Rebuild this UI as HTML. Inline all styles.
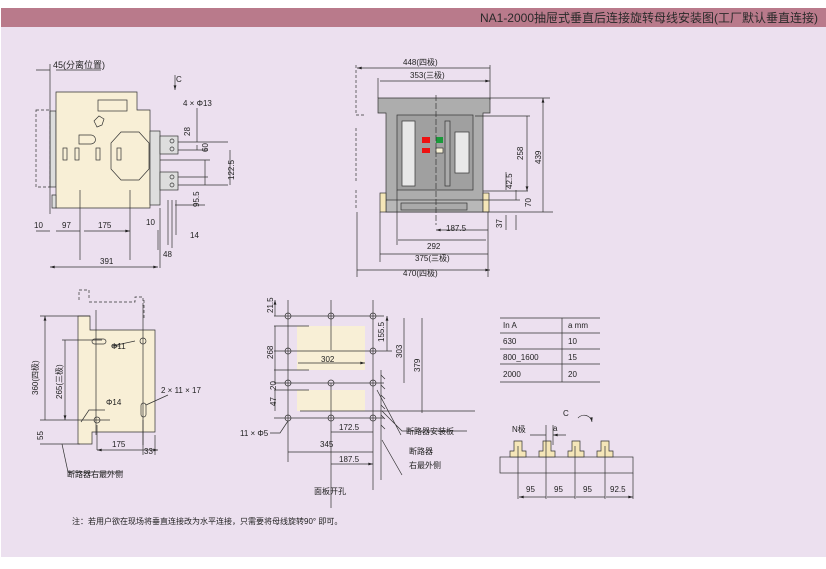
<!DOCTYPE html>
<html><head><meta charset="utf-8"><style>
html,body{margin:0;padding:0;background:#fff;}
svg{display:block;font-family:"Liberation Sans","Noto Sans CJK SC",sans-serif;}
</style></head><body>
<svg width="826" height="569" viewBox="0 0 826 569" xmlns="http://www.w3.org/2000/svg">
<defs>
<marker id="a" viewBox="0 0 10 6" refX="10" refY="3" markerWidth="7" markerHeight="4" orient="auto-start-reverse"><path d="M0,0L10,3L0,6z" fill="#222"/></marker>
</defs>
<rect x="1" y="8" width="825" height="549" fill="#ece0ef"/>
<rect x="1" y="8" width="825" height="19" fill="#b97a8b"/>
<text x="818" y="22" font-size="12" fill="#2a2a2a" text-anchor="end">NA1-2000抽屉式垂直后连接旋转母线安装图(工厂默认垂直连接)</text>

<g stroke="#333" stroke-width="0.7" fill="none" font-size="8" >
<!-- LEFT TOP VIEW -->
<rect x="36" y="110" width="14" height="77" stroke-dasharray="3,2"/>
<rect x="50" y="111" width="6" height="76" fill="#dcdcdc"/>
<path d="M56,92H137V110H150V208H56Z" fill="#f8efd6"/>
<path d="M52,195h4v13h-4z" fill="#ddd"/>
<rect x="150" y="131" width="10" height="74" fill="#ddd"/>
<rect x="160" y="136" width="18" height="18" fill="#ddd"/>
<rect x="160" y="172" width="18" height="18" fill="#ddd"/>
<circle cx="172" cy="141" r="2"/><circle cx="172" cy="149" r="2"/>
<circle cx="172" cy="177" r="2"/><circle cx="172" cy="185" r="2"/>
<rect x="98" y="100" width="29" height="11"/>
<path d="M94,121l5,-5l5,3l-2,6l-5,2z"/>
<path d="M79,135h12a4,4 0 0 1 0,9h-12z"/>
<rect x="63" y="148" width="4" height="12"/><rect x="75" y="148" width="4" height="12"/>
<rect x="96" y="148" width="4" height="12"/><rect x="117" y="148" width="4" height="12"/>
<path d="M121,132h18l10,11v26l-10,11h-18l-10,-11v-26z"/>
<path d="M50,64v150M50,70h-14M56,70h45" />
<path d="M178,142h50M178,150h30M178,177h30M178,185h50M175,205h30M160,160h50"/>
<path d="M175,75v15" marker-end="url(#a)"/>
<path d="M80,190v70M130,190v70M160,208v60M158,230v20M168,200v45M172,200v48M176,200v35"/>
<path d="M36,231h14M56,231h24M84,231h46" marker-end="url(#a)"/>
<path d="M50,267h108" marker-start="url(#a)" marker-end="url(#a)"/>
<path d="M197,108v34M197,150v-5M230,150v35M205,185v-25" />
<text x="53" y="68" stroke="none" fill="#222" font-size="9">45(分离位置)</text>
<text x="176" y="82" stroke="none" fill="#222">C</text>
<text x="183" y="106" stroke="none" fill="#222">4 × Φ13</text>
<text x="190" y="136" stroke="none" fill="#222" transform="rotate(-90 190 136)">28</text>
<text x="208" y="152" stroke="none" fill="#222" transform="rotate(-90 208 152)">60</text>
<text x="234" y="180" stroke="none" fill="#222" transform="rotate(-90 234 180)">122.5</text>
<text x="199" y="207" stroke="none" fill="#222" transform="rotate(-90 199 207)">95.5</text>
<text x="34" y="228" stroke="none" fill="#222">10</text>
<text x="62" y="228" stroke="none" fill="#222">97</text>
<text x="98" y="228" stroke="none" fill="#222">175</text>
<text x="146" y="225" stroke="none" fill="#222">10</text>
<text x="190" y="238" stroke="none" fill="#222">14</text>
<text x="163" y="257" stroke="none" fill="#222">48</text>
<text x="100" y="264" stroke="none" fill="#222">391</text>

<!-- RIGHT TOP VIEW -->
<path d="M356,65v50M356,115h8M356,128v55M356,190v20" stroke-dasharray="3,2"/>
<path d="M378,98H490V113H483V212H386V113H378Z" fill="#adadad"/>
<rect x="397" y="115" width="76" height="75" fill="#a0a0a0"/>
<rect x="402" y="121" width="13" height="65" fill="#e8e8e8"/>
<rect x="445" y="121" width="5" height="65" fill="#ababab"/>
<rect x="455" y="132" width="14" height="41" fill="#e8e8e8"/>
<rect x="422" y="137" width="8" height="6" fill="#e11" stroke="none"/>
<rect x="436" y="137" width="7" height="6" fill="#1a9a3a" stroke="none"/>
<rect x="422" y="148" width="8" height="5" fill="#e11" stroke="none"/>
<rect x="436" y="148" width="7" height="5" fill="#f6f0d6"/>
<rect x="386" y="200" width="97" height="12" fill="#b8b8b8"/>
<rect x="401" y="203" width="66" height="7" fill="#aaa"/>
<rect x="380" y="193" width="6" height="19" fill="#f5e6b8"/>
<rect x="483" y="193" width="6" height="19" fill="#f5e6b8"/>
<path d="M436,95v130" stroke-dasharray="6,2"/>
<path d="M357,68h133M380,81h110" marker-start="url(#a)" marker-end="url(#a)"/>
<path d="M378,78v20M490,65v35"/>
<path d="M490,98h60M475,116h55M483,191h45M480,200h40M483,212h70"/>
<path d="M543,98v114M527,116v75" marker-start="url(#a)" marker-end="url(#a)"/>
<path d="M506,190v-18M506,215v15M516,200v-10M516,215v15" />
<path d="M436,230h52M398,240h88M380,254h108M357,270h133" marker-start="url(#a)" marker-end="url(#a)"/>
<path d="M397,190v55M380,212v50M488,212v65M357,212v65"/>
<text x="403" y="65" stroke="none" fill="#222">448(四极)</text>
<text x="410" y="78" stroke="none" fill="#222">353(三极)</text>
<text x="523" y="160" stroke="none" fill="#222" transform="rotate(-90 523 160)">258</text>
<text x="541" y="164" stroke="none" fill="#222" transform="rotate(-90 541 164)">439</text>
<text x="512" y="189" stroke="none" fill="#222" transform="rotate(-90 512 189)">42.5</text>
<text x="531" y="207" stroke="none" fill="#222" transform="rotate(-90 531 207)">70</text>
<text x="502" y="228" stroke="none" fill="#222" transform="rotate(-90 502 228)">37</text>
<text x="446" y="231" stroke="none" fill="#222">187.5</text>
<text x="427" y="249" stroke="none" fill="#222">292</text>
<text x="415" y="261" stroke="none" fill="#222">375(三极)</text>
<text x="403" y="276" stroke="none" fill="#222">470(四极)</text>

<!-- BOTTOM LEFT VIEW -->
<path d="M79,300v-10h10v10M89,302h46v-5h8v10M144,300v20" stroke-dasharray="3,2"/>
<path d="M78,316H90V330H155V432H92V444H78Z" fill="#f8efd6"/>
<path d="M96,310v125M143,305v140M40,316h50M62,340h40M40,420h70M40,444h40"/>
<rect x="92" y="339" width="14" height="5" rx="2.5"/>
<circle cx="143" cy="341" r="3"/><circle cx="97" cy="420" r="3"/>
<rect x="141" y="403" width="5" height="14" rx="2.5"/>
<path d="M45,316v104M65,340v80" marker-start="url(#a)" marker-end="url(#a)"/>
<path d="M97,450h46M143,450h15" marker-start="url(#a)" marker-end="url(#a)"/>
<path d="M155,435v20M97,425v25M143,420v35"/>
<path d="M120,346h-8l23,-5M105,410h-16l-8,12M168,395l-22,10"/>
<path d="M62,444l6,28h55"/>
<text x="38" y="395" stroke="none" fill="#222" transform="rotate(-90 38 395)">360(四极)</text>
<text x="62" y="399" stroke="none" fill="#222" transform="rotate(-90 62 399)">265(三极)</text>
<text x="43" y="440" stroke="none" fill="#222" transform="rotate(-90 43 440)">55</text>
<text x="111" y="349" stroke="none" fill="#222">Φ11</text>
<text x="106" y="405" stroke="none" fill="#222">Φ14</text>
<text x="161" y="393" stroke="none" fill="#222">2 × 11 × 17</text>
<text x="112" y="447" stroke="none" fill="#222">175</text>
<text x="144" y="454" stroke="none" fill="#222">33</text>
<text x="67" y="477" stroke="none" fill="#222">断路器右最外侧</text>

<!-- PANEL VIEW -->
<rect x="297" y="326" width="68" height="44" fill="#f8efd6" stroke="none"/>
<rect x="297" y="390" width="68" height="21" fill="#f8efd6" stroke="none"/>
<path d="M288,300v162M331,300v50M331,383v125M373,300v190"/>
<path d="M274,316h110M274,351h118M274,383h110M274,418h110M274,326h35M274,370h35M274,390h35M300,411h175"/>
<circle cx="288" cy="316" r="3"/><circle cx="331" cy="316" r="3"/><circle cx="373" cy="316" r="3"/>
<circle cx="288" cy="351" r="3"/><circle cx="373" cy="351" r="3"/>
<circle cx="288" cy="383" r="3"/><circle cx="331" cy="383" r="3"/><circle cx="373" cy="383" r="3"/>
<circle cx="288" cy="418" r="3"/><circle cx="331" cy="418" r="3"/><circle cx="373" cy="418" r="3"/>
<path d="M381,370v110"/>
<path d="M381,375l4,4M381,385l4,4M381,395l4,4M381,405l4,4M381,415l4,4M381,425l4,4"/>
<path d="M275,300v16M275,326v44M275,383v-13M275,390v21M298,363h67" marker-start="url(#a)" marker-end="url(#a)"/>
<path d="M387,316v35M404,318v65M422,318v95M331,432h42M288,452h85M331,464h42" marker-start="url(#a)" marker-end="url(#a)"/>
<path d="M382,411l20,20h65M377,390l24,45M382,440l20,35"/>
<path d="M270,433h10l8,-12"/>
<text x="273" y="313" stroke="none" fill="#222" transform="rotate(-90 273 313)">21.5</text>
<text x="273" y="359" stroke="none" fill="#222" transform="rotate(-90 273 359)">268</text>
<text x="276" y="390" stroke="none" fill="#222" transform="rotate(-90 276 390)">20</text>
<text x="276" y="406" stroke="none" fill="#222" transform="rotate(-90 276 406)">47</text>
<text x="384" y="342" stroke="none" fill="#222" transform="rotate(-90 384 342)">155.5</text>
<text x="402" y="358" stroke="none" fill="#222" transform="rotate(-90 402 358)">303</text>
<text x="420" y="372" stroke="none" fill="#222" transform="rotate(-90 420 372)">379</text>
<text x="321" y="362" stroke="none" fill="#222">302</text>
<text x="240" y="436" stroke="none" fill="#222">11 × Φ5</text>
<text x="339" y="430" stroke="none" fill="#222">172.5</text>
<text x="320" y="447" stroke="none" fill="#222">345</text>
<text x="339" y="462" stroke="none" fill="#222">187.5</text>
<text x="406" y="434" stroke="none" fill="#222">断路器安装板</text>
<text x="409" y="454" stroke="none" fill="#222">断路器</text>
<text x="409" y="468" stroke="none" fill="#222">右最外侧</text>
<text x="314" y="494" stroke="none" fill="#222">面板开孔</text>

<!-- TABLE -->
<path d="M500,318h100M500,333h100M500,349h100M500,364h100M500,382h100M562,318v64"/>
<text x="503" y="328" stroke="none" fill="#222">In A</text><text x="568" y="328" stroke="none" fill="#222">a mm</text>
<text x="503" y="344" stroke="none" fill="#222">630</text><text x="568" y="344" stroke="none" fill="#222">10</text>
<text x="503" y="360" stroke="none" fill="#222">800_1600</text><text x="568" y="360" stroke="none" fill="#222">15</text>
<text x="503" y="377" stroke="none" fill="#222">2000</text><text x="568" y="377" stroke="none" fill="#222">20</text>

<!-- BUSBAR -->
<rect x="500" y="457" width="133" height="16" fill="#ece0ef"/>
<g fill="#f5e6b8">
<path d="M514,441h8v10h4v6h-16v-6h4z"/>
<path d="M543,441h8v10h4v6h-16v-6h4z"/>
<path d="M572,441h8v10h4v6h-16v-6h4z"/>
<path d="M601,441h8v10h4v6h-16v-6h4z"/>
</g>
<path d="M518,446v53M546,425v74M575,446v53M605,446v53M633,473v26M553,425v20"/>
<path d="M519,497h27M547,497h28M576,497h29M606,497h27" marker-start="url(#a)" marker-end="url(#a)"/>
<path d="M530,435h16M566,435h-13" marker-end="url(#a)"/>
<path d="M578,418a8,8 0 0 1 14,4" marker-end="url(#a)"/>
<text x="563" y="416" stroke="none" fill="#222">C</text>
<text x="512" y="432" stroke="none" fill="#222">N极</text>
<text x="553" y="431" stroke="none" fill="#222">a</text>
<text x="526" y="492" stroke="none" fill="#222">95</text>
<text x="554" y="492" stroke="none" fill="#222">95</text>
<text x="583" y="492" stroke="none" fill="#222">95</text>
<text x="610" y="492" stroke="none" fill="#222">92.5</text>
</g>
<text x="72" y="524" font-size="8" fill="#222">注：若用户欲在现场将垂直连接改为水平连接，只需要将母线旋转90° 即可。</text>
</svg>
</body></html>
